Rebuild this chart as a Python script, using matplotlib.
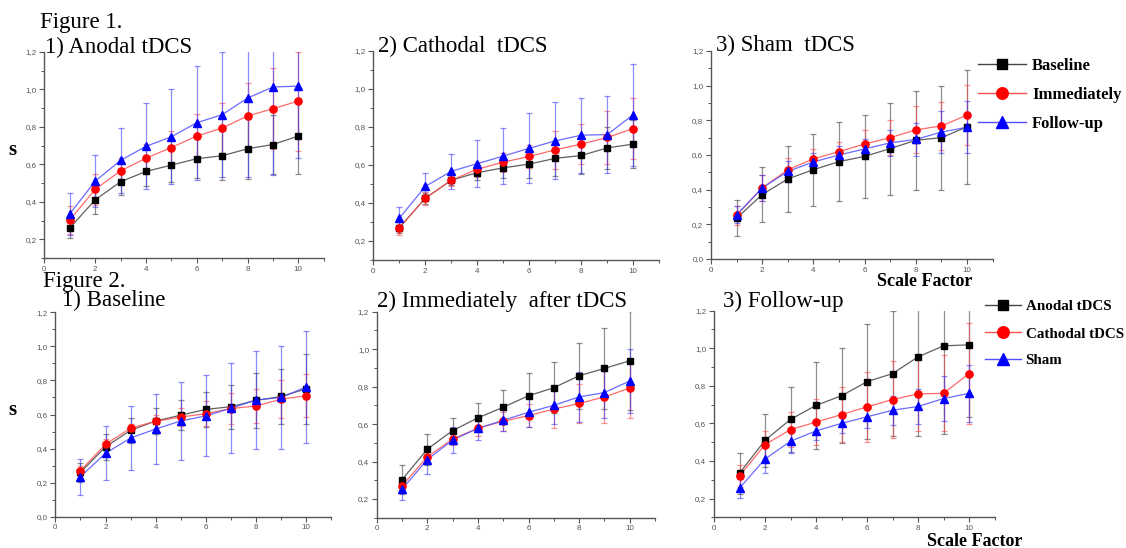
import matplotlib
matplotlib.use("Agg")
import matplotlib.pyplot as plt
from matplotlib.lines import Line2D
from matplotlib.ticker import MultipleLocator, FuncFormatter
import numpy as np

# ---------------- data ----------------
scale_factor = [1, 2, 3, 4, 5, 6, 7, 8, 9, 10]

anodal_base = [0.26, 0.41, 0.507, 0.562, 0.596, 0.63, 0.646, 0.683, 0.706, 0.751]
anodal_imm = [0.303, 0.466, 0.565, 0.633, 0.69, 0.751, 0.794, 0.858, 0.897, 0.938]
anodal_fu = [0.335, 0.51, 0.621, 0.696, 0.747, 0.822, 0.865, 0.954, 1.013, 1.018]
anodal_base_sd = [0.055, 0.075, 0.072, 0.078, 0.088, 0.105, 0.13, 0.16, 0.16, 0.205]
anodal_imm_sd = [0.077, 0.083, 0.068, 0.077, 0.09, 0.12, 0.135, 0.175, 0.217, 0.264]
anodal_fu_sd = [0.11, 0.14, 0.173, 0.23, 0.253, 0.305, 0.333, 0.42, 0.47, 0.385]

cathodal_base = [0.27, 0.425, 0.52, 0.56, 0.585, 0.605, 0.635, 0.65, 0.69, 0.71]
cathodal_imm = [0.27, 0.425, 0.52, 0.578, 0.615, 0.645, 0.68, 0.71, 0.745, 0.792]
cathodal_fu = [0.32, 0.487, 0.567, 0.607, 0.647, 0.688, 0.727, 0.757, 0.76, 0.865]
cathodal_base_sd = [0.03, 0.03, 0.025, 0.04, 0.055, 0.072, 0.092, 0.1, 0.112, 0.125]
cathodal_imm_sd = [0.04, 0.035, 0.03, 0.04, 0.05, 0.06, 0.1, 0.105, 0.138, 0.158]
cathodal_fu_sd = [0.06, 0.07, 0.093, 0.123, 0.148, 0.185, 0.203, 0.198, 0.203, 0.268]

sham_base = [0.235, 0.372, 0.462, 0.515, 0.562, 0.592, 0.637, 0.685, 0.70, 0.762]
sham_imm = [0.252, 0.41, 0.515, 0.577, 0.62, 0.663, 0.70, 0.745, 0.768, 0.83]
sham_fu = [0.255, 0.41, 0.505, 0.56, 0.60, 0.635, 0.67, 0.69, 0.732, 0.76]
sham_base_sd = [0.105, 0.158, 0.19, 0.208, 0.227, 0.238, 0.265, 0.287, 0.30, 0.33]
sham_imm_sd = [0.055, 0.075, 0.067, 0.06, 0.057, 0.08, 0.10, 0.135, 0.138, 0.172]
sham_fu_sd = [0.05, 0.075, 0.062, 0.05, 0.05, 0.06, 0.077, 0.095, 0.12, 0.15]

fig1_labels = ["Baseline", "Immediately", "Follow-up"]
fig2_labels = ["Anodal tDCS", "Cathodal tDCS", "Sham"]
fig1_titles = ["1) Anodal tDCS", "2) Cathodal  tDCS", "3) Sham  tDCS"]
fig2_titles = ["1) Baseline", "2) Immediately  after tDCS", "3) Follow-up"]

# ---------------- styling ----------------
W, H = 1126, 548
fig = plt.figure(figsize=(W / 100, H / 100), dpi=100)
fig.patch.set_facecolor("white")

SERIF = ["Liberation Serif", "DejaVu Serif"]
styles = [
    dict(mc="#000000", lc="#444444", ec="#333333", marker="s", ms=4.8),
    dict(mc="#ff0000", lc="#ff5050", ec="#ff4040", marker="o", ms=5.2),
    dict(mc="#0000ff", lc="#5050ff", ec="#3030ff", marker="^", ms=5.6),
]


def add_ax(x0, ytop, x1, ybot):
    return fig.add_axes([x0 / W, 1 - ybot / H, (x1 - x0) / W, (ybot - ytop) / H])


def style_ax(ax, ymin):
    ax.set_xlim(0, 11)
    ax.set_ylim(ymin, 1.2)
    for s in ["top", "right"]:
        ax.spines[s].set_visible(False)
    for s in ["left", "bottom"]:
        ax.spines[s].set_color("#555555")
        ax.spines[s].set_linewidth(1.0)
    ax.xaxis.set_major_locator(MultipleLocator(2))
    ax.xaxis.set_minor_locator(MultipleLocator(1))
    ax.yaxis.set_major_locator(MultipleLocator(0.2))
    ax.yaxis.set_minor_locator(MultipleLocator(0.1))
    ax.yaxis.set_major_formatter(FuncFormatter(lambda v, p: f"{v:.1f}".replace(".", ",")))
    ax.xaxis.set_major_formatter(FuncFormatter(lambda v, p: f"{int(round(v))}"))
    ax.tick_params(which="major", direction="out", length=3.5, width=0.8,
                   color="#555555", labelsize=5.8, labelcolor="#555555", pad=2)
    ax.tick_params(which="minor", direction="out", length=2, width=0.7, color="#555555")
    ax.set_facecolor("none")
    if ymin > 0.05:
        ax.set_yticks(np.arange(0.2, 1.21, 0.2))
    for lab in ax.get_xticklabels() + ax.get_yticklabels():
        lab.set_family(["Liberation Sans", "DejaVu Sans"])


def draw(ax, series):
    for (mean, sd), st in zip(series, styles):
        ax.errorbar(scale_factor, mean, yerr=sd, fmt="none", ecolor=st["ec"],
                    alpha=0.55, elinewidth=0.9, capsize=2.2, capthick=0.9, zorder=2)
        ax.plot(scale_factor, mean, color=st["lc"], lw=0.9, alpha=0.85, zorder=3)
        ax.plot(scale_factor, mean, linestyle="none", marker=st["marker"],
                ms=st["ms"], color=st["mc"], mec=st["mc"], zorder=4)


# Figure 1 panels (by stimulation, series = time points)
fig1_series = [
    [(anodal_base, anodal_base_sd), (anodal_imm, anodal_imm_sd), (anodal_fu, anodal_fu_sd)],
    [(cathodal_base, cathodal_base_sd), (cathodal_imm, cathodal_imm_sd), (cathodal_fu, cathodal_fu_sd)],
    [(sham_base, sham_base_sd), (sham_imm, sham_imm_sd), (sham_fu, sham_fu_sd)],
]
# Figure 2 panels (by time point, series = stimulation)
fig2_series = [
    [(anodal_base, anodal_base_sd), (cathodal_base, cathodal_base_sd), (sham_base, sham_base_sd)],
    [(anodal_imm, anodal_imm_sd), (cathodal_imm, cathodal_imm_sd), (sham_imm, sham_imm_sd)],
    [(anodal_fu, anodal_fu_sd), (cathodal_fu, cathodal_fu_sd), (sham_fu, sham_fu_sd)],
]

fig1_boxes = [(44.3, 52, 323.7, 258), (373.3, 51, 659.3, 260), (711, 51, 992.6, 259)]
fig1_ymin = [0.1, 0.1, 0.0]
fig1_title_pos = [(45, 53), (378, 52), (716, 51)]

fig2_boxes = [(55.3, 312.3, 331.4, 516.7), (376.7, 311.7, 655, 517.7), (714, 310.7, 994.5, 517.3)]
fig2_ymin = [0.0, 0.1, 0.1]
fig2_title_pos = [(62, 306), (377, 307), (723, 307)]

for boxes, ymins, series, titles, tpos in [
    (fig1_boxes, fig1_ymin, fig1_series, fig1_titles, fig1_title_pos),
    (fig2_boxes, fig2_ymin, fig2_series, fig2_titles, fig2_title_pos),
]:
    for box, ymin, ser, title, (tx, ty) in zip(boxes, ymins, series, titles, tpos):
        ax = add_ax(*box)
        style_ax(ax, ymin)
        draw(ax, ser)
        fig.text(tx / W, 1 - ty / H, title, family=SERIF, fontsize=16.5,
                 ha="left", va="baseline", color="black")

# Figure headings
fig.text(40 / W, 1 - 28 / H, "Figure 1.", family=SERIF, fontsize=16.5, va="baseline")
fig.text(43 / W, 1 - 287 / H, "Figure 2.", family=SERIF, fontsize=16.5, va="baseline")

# y labels "s"
fig.text(12 / W, 1 - 150 / H, "s", family=SERIF, fontsize=15, fontweight="bold",
         ha="center", va="center")
fig.text(12 / W, 1 - 410 / H, "s", family=SERIF, fontsize=15, fontweight="bold",
         ha="center", va="center")

# x labels "Scale Factor"
fig.text(925 / W, 1 - 282 / H, "Scale Factor", family=SERIF, fontsize=13,
         fontweight="bold", ha="center", va="center")
fig.text(975 / W, 1 - 541 / H, "Scale Factor", family=SERIF, fontsize=13,
         fontweight="bold", ha="center", va="center")


# legends
def legend_handles():
    return [Line2D([], [], color=st["lc"], lw=1.0, marker=st["marker"],
                   ms=st["ms"] * 1.6, mfc=st["mc"], mec=st["mc"]) for st in styles]


leg1 = fig.legend(legend_handles(), fig1_labels, loc="upper left",
                  bbox_to_anchor=(978 / W, 1 - 58 / H), frameon=False,
                  borderpad=0, borderaxespad=0,
                  handlelength=2.9, handletextpad=0.35, labelspacing=0.78,
                  prop=dict(family=SERIF, size=12, weight="bold"))
leg2 = fig.legend(legend_handles(), fig2_labels, loc="upper left",
                  bbox_to_anchor=(985 / W, 1 - 300 / H), frameon=False,
                  borderpad=0, borderaxespad=0,
                  handlelength=2.4, handletextpad=0.3, labelspacing=0.9,
                  prop=dict(family=SERIF, size=10.8, weight="bold"))

fig.savefig("out.png", dpi=100, facecolor="white")
